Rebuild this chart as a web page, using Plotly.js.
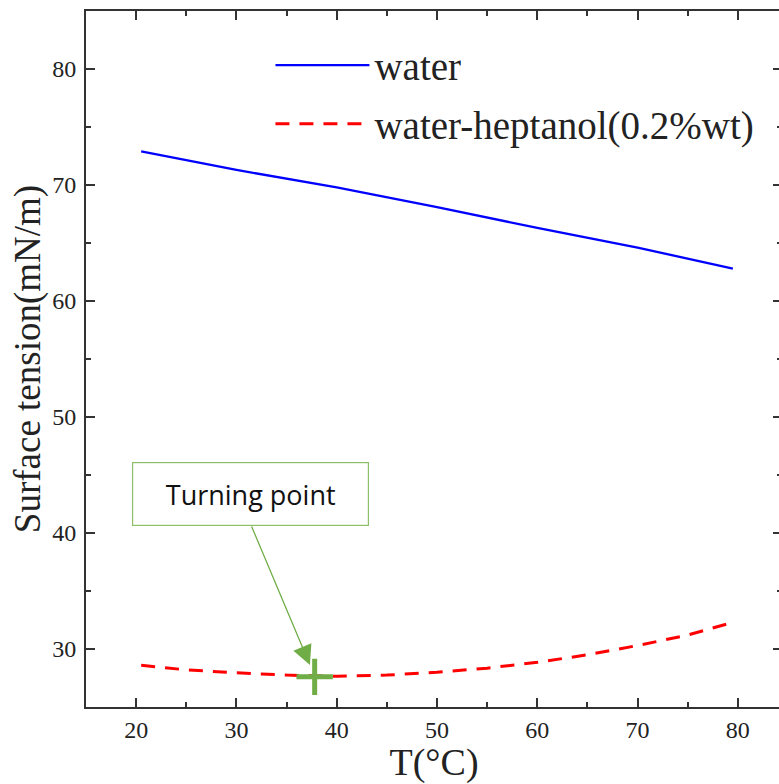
<!DOCTYPE html>
<html>
<head>
<meta charset="utf-8">
<script src="https://cdn.plot.ly/plotly-3.0.1.min.js"></script>
<style>html,body{margin:0;padding:0;overflow:hidden;background:#fff;}</style>
</head>
<body>
<div id="chart"></div>
<script>
// Data
const waterT = [20.5, 30, 40, 50, 60, 70, 79.5];
const waterST = [72.9, 71.3, 69.8, 68.1, 66.3, 64.6, 62.8];
const heptT = [20.5, 25, 30, 35, 40, 45, 50, 55, 60, 65, 70, 75, 79.5];
const heptST = [28.6, 28.2, 27.95, 27.75, 27.65, 27.75, 28.0, 28.35, 28.85, 29.5, 30.3, 31.2, 32.3];
const turnT = [37.8];
const turnST = [27.6];
const xTicks = [20, 30, 40, 50, 60, 70, 80];
const yTicks = [30, 40, 50, 60, 70, 80];

const serif = "'Liberation Serif', 'Times New Roman', serif";

const traces = [
  {x: waterT, y: waterST, mode: 'lines', name: 'water', legendgroup: 'a',
   line: {color: '#0000ff', width: 2.3}},
  {x: heptT, y: heptST, mode: 'lines', name: 'water-heptanol(0.2%wt)', legendgroup: 'b',
   line: {color: '#ff0000', width: 3, dash: '14px,10px'}},
  {x: turnT, y: turnST, mode: 'markers', showlegend: false,
   marker: {symbol: 'cross-thin', size: 26, color: '#70AD47', line: {color: '#70AD47', width: 5}}}
];

const axisCommon = {
  showgrid: false, zeroline: false,
  showline: true, linecolor: '#333', linewidth: 2,
  mirror: 'ticks', ticks: 'inside', ticklen: 9, tickwidth: 2, tickcolor: '#333',
  tickfont: {family: serif, size: 24, color: '#222'}
};

const layout = {
  width: 790, height: 784,
  margin: {l: 86, r: 8, t: 11, b: 77},
  paper_bgcolor: '#fff', plot_bgcolor: '#fff',
  showlegend: true,
  legend: {x: 0.265, y: 0.968, xanchor: 'left', yanchor: 'top',
    bgcolor: 'rgba(0,0,0,0)', itemwidth: 94, traceorder: 'grouped', tracegroupgap: 5,
    font: {family: serif, size: 39, color: '#222'}},
  xaxis: Object.assign({}, axisCommon, {
    range: [15, 84.4], tickvals: xTicks, ticktext: xTicks.map(String),
    minor: {dtick: 5, tick0: 15, ticks: 'inside', ticklen: 5, tickwidth: 2, tickcolor: '#333'},
    ticklabelstandoff: 0,
    title: {text: 'T(°C)', font: {family: serif, size: 38, color: '#222'}, standoff: 22}
  }),
  yaxis: Object.assign({}, axisCommon, {
    range: [25, 85], tickvals: yTicks, ticktext: yTicks.map(String),
    minor: {dtick: 5, tick0: 25, ticks: 'inside', ticklen: 5, tickwidth: 2, tickcolor: '#333'},
    ticklabelstandoff: 3,
    title: {text: 'Surface tension(mN/m)', font: {family: serif, size: 37, color: '#222'}, standoff: 0}
  }),
  annotations: [
    {x: 31.4, y: 43.36, xref: 'x', yref: 'y', text: 'Turning point', showarrow: false,
     font: {family: "'Open Sans', 'Noto Sans', sans-serif", size: 27, color: '#111'},
     width: 233, height: 60, bgcolor: '#fff', bordercolor: '#8CBF67', borderwidth: 1.2,
     xanchor: 'center', yanchor: 'middle'},
    {x: 37.33, y: 28.62, xref: 'x', yref: 'y', ax: 31.45, ay: 40.69, axref: 'x', ayref: 'y',
     text: '', showarrow: true, arrowhead: 2, arrowsize: 3, arrowwidth: 1.3, arrowcolor: '#70AD47'}
  ]
};

Plotly.newPlot('chart', traces, layout, {displayModeBar: false, staticPlot: true});
</script>
</body>
</html>
